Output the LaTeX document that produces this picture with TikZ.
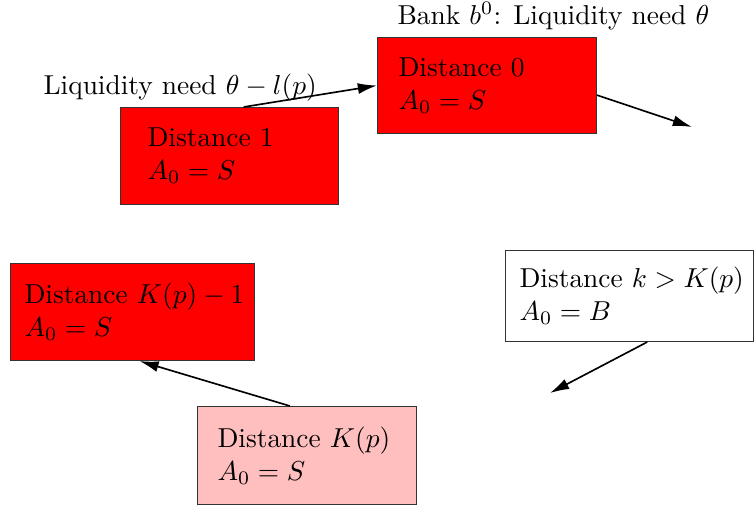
\documentclass[tikz,border=0pt]{standalone}
\usepackage{amsmath,amssymb}
\usepackage{xcolor}
\usepackage{tikz}
\usetikzlibrary{positioning,arrows.meta,calc}

\begin{document}
\begin{tikzpicture}[
  x=0.365pt, y=-0.365pt,
  distbox/.style={draw=black!80, line width=0.4pt, rectangle, anchor=north west, inner sep=0pt},
  boxtext/.style={anchor=west, align=left, inner sep=0pt},
  link/.style={draw, -{Latex[length=7pt,width=4pt]}, line width=0.6pt}
]
\useasboundingbox (0,0) rectangle (754,508);

% banks, by distance
\node[distbox, fill=red, minimum width=79.9pt, minimum height=35pt] (d0) at (377,37) {};
\node[distbox, fill=red, minimum width=79.6pt, minimum height=35.4pt] (d1) at (120,107) {};
\node[distbox, fill=red, minimum width=89.1pt, minimum height=35.4pt] (dKm1) at (10,263) {};
\node[distbox, fill=red!25, minimum width=79.9pt, minimum height=35.8pt] (dK) at (197,406) {};
\node[distbox, fill=white, minimum width=90.5pt, minimum height=33.2pt] (dk) at (505,250) {};

\node[boxtext] (d0txt) at ($(d0.west)+(21,0)$) {Distance 0\\$A_0=S$};
\node[boxtext] (d1txt) at ($(d1.west)+(27,0)$) {Distance 1\\$A_0=S$};
\node[boxtext] (dKm1txt) at ($(dKm1.west)+(14,0)$) {Distance $K(p)-1$\\$A_0=S$};
\node[boxtext] (dKtxt) at ($(dK.west)+(20,0)$) {Distance $K(p)$\\$A_0=S$};
\node[boxtext] (dktxt) at ($(dk.west)+(14,0)$) {Distance $k>K(p)$\\$A_0=B$};

% liquidity labels
\node[anchor=base west, inner sep=0pt] (banklbl) at (397,24) {Bank $b^0$: Liquidity need $\theta$};
\node[anchor=base west, inner sep=0pt] (needlbl) at (43,95) {Liquidity need $\theta-l(p)$};

% contagion arrows
\coordinate (out0) at (692,127);
\coordinate (outk) at (550,393);
\draw[link] (d1.74) -- (d0.west);
\draw[link] (d0.-5) -- (out0);
\draw[link] (dk.-69) -- (outk);
\draw[link] (dK.109) -- (dKm1.-82);
\end{tikzpicture}
\end{document}
